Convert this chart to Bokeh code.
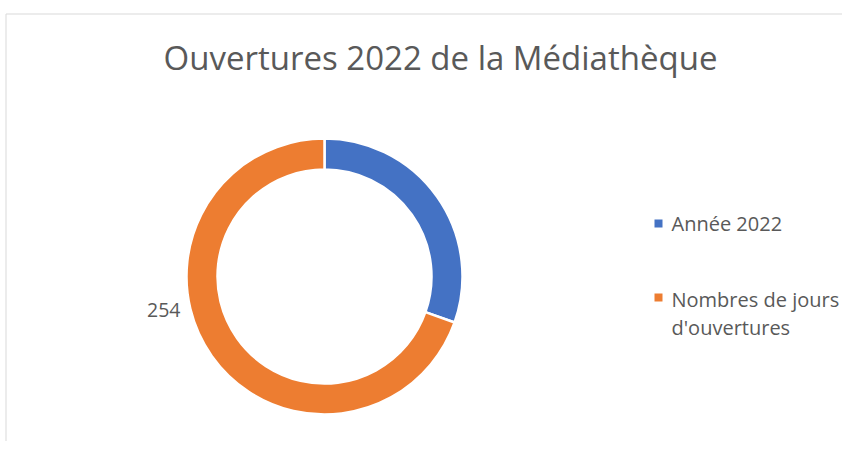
from bokeh.plotting import figure
from bokeh.models import Range1d
from bokeh.core.properties import value
from bokeh.embed import file_html
from bokeh.resources import INLINE
import numpy as np

title = "Ouvertures 2022 de la Médiathèque"
categories = ["Année 2022", "Nombres de jours d'ouvertures"]
legend_lines = [["Année 2022"], ["Nombres de jours", "d'ouvertures"]]
values = [111, 254]
shown_labels = [None, "254"]
colors = ["#4472C4", "#ED7D31"]

W, H = 842, 441
FONT = "Open Sans"
TXT = "#595959"

p = figure(width=W, height=H, output_backend="svg", toolbar_location=None,
           x_range=Range1d(0, W), y_range=Range1d(0, H), min_border=0)
p.axis.visible = False
p.grid.visible = False
p.outline_line_color = None
p.background_fill_color = "white"

def Y(ref_y):
    return H - ref_y

def X(ref_x):
    return ref_x

# border (top and left)
p.segment(x0=[X(5.5), X(5.5)], y0=[Y(13.5), Y(13.5)], x1=[W, X(5.5)], y1=[Y(13.5), 0],
          line_color="#d9d9d9", line_width=1)

# donut
cx, cy = X(324), Y(276)
r_out, r_in = 138, 107
vals = np.array(values, dtype=float)
fr = vals / vals.sum()
ends = np.cumsum(fr) * 2 * np.pi
starts = np.concatenate([[0], ends[:-1]])
start_ang = np.pi / 2 - starts
end_ang = np.pi / 2 - ends
p.annular_wedge(x=cx, y=cy, inner_radius=r_in, outer_radius=r_out,
                start_angle=list(start_ang), end_angle=list(end_ang),
                direction="clock", fill_color=colors,
                line_color="white", line_width=2.5)

# data label
p.text(x=[cx - r_out - 6], y=[Y(309)], text=[shown_labels[1]],
       text_font=value(FONT), text_font_size="19.5px", text_color=TXT,
       text_align="right", text_baseline="middle")

# title
p.text(x=[X(440)], y=[Y(57)], text=[title], text_font=value(FONT),
       text_font_size="33px", text_color=TXT, text_align="center",
       text_baseline="middle")

# legend
leg_x = X(658)
leg_sq_y = [Y(223), Y(297)]
leg_txt_y = [Y(223), Y(299)]
p.scatter(x=[leg_x] * 2, y=leg_sq_y, marker="square", size=8,
          fill_color=colors, line_color=None)
line_gap = 28
for lines, y0 in zip(legend_lines, leg_txt_y):
    for i, t in enumerate(lines):
        p.text(x=[X(671)], y=[y0 - i * line_gap], text=[t],
               text_font=value(FONT), text_font_size="20px",
               text_color=TXT, text_align="left", text_baseline="middle")

open("out.html", "w").write(file_html(p, INLINE))
